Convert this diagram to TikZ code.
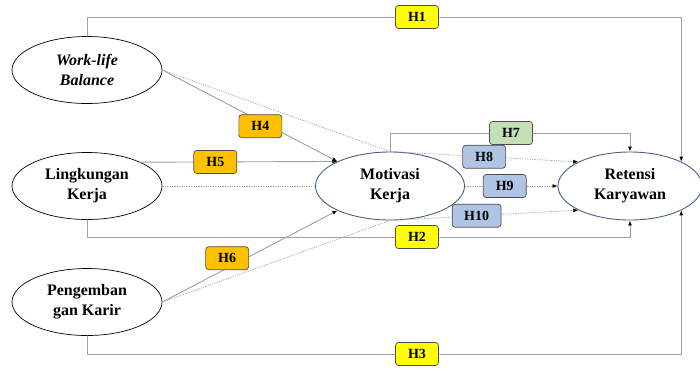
\documentclass[tikz,border=0pt]{standalone}
\usepackage{fontspec}
\setmainfont{Liberation Serif}
\usetikzlibrary{calc, shapes.geometric, arrows.meta}
\definecolor{linegray}{HTML}{A0A0A0}
\definecolor{slate}{HTML}{4A5F86}
\definecolor{hyellow}{HTML}{FFFF00}
\definecolor{horange}{HTML}{FFC000}
\definecolor{hgreen}{HTML}{C5E0B4}
\definecolor{hblue}{HTML}{B0C4E6}
\def\varfont{\bfseries\fontsize{16}{20}\selectfont}

\begin{document}
\begin{tikzpicture}[x=1pt, y=-1pt, line cap=round, line join=round,
	var/.style={ellipse, draw, fill=white, line width=0.7pt, minimum width=150pt, minimum height=67pt, inner sep=0pt, align=center, font=\varfont},
	med/.style={var, draw=slate, line width=0.9pt, minimum width=149pt, minimum height=68pt},
	hyp/.style={draw=black!70, solid, rounded corners=3pt, line width=0.7pt, minimum width=43pt, minimum height=23pt, inner xsep=12pt, inner ysep=0pt, font=\bfseries\fontsize{14}{16}\selectfont},
	link/.style={draw=linegray, line width=0.9pt, -{Latex[length=5pt, width=4pt, color=black]}},
	dotlink/.style={link, line width=0.7pt, line cap=butt, dash pattern=on 1.2pt off 1.2pt}]
		
		\useasboundingbox (0,0) rectangle (700,370);
		
		%Variables
		\node[var, font=\varfont\itshape] (wlb) at (87,70) {Work-life\\Balance};
		\node[var] (lk) at (87,186) {Lingkungan\\Kerja};
		\node[var] (pk) at (87,302) {Pengemban\\gan Karir};
		\node[med] (mk) at (390,186) {Motivasi\\Kerja};
		\node[med, minimum width=144pt] (rk) at (630,186) {Retensi\\Karyawan};
		
		%Hypotheses on the outer routes
		\node[hyp, fill=hyellow] (h1) at (417,17) {H1};
		\node[hyp, fill=hyellow] (h2) at (417,237) {H2};
		\node[hyp, fill=hyellow] (h3) at (417,354) {H3};
		\node[hyp, fill=hgreen] (h7) at (511,133) {H7};
		
		%Direct lines
		\draw[link] (wlb.north) |- (h1) -| (rk.north east);
		\draw[link] (lk.south) |- (h2) -| (rk.south);
		\draw[link] (pk.south) |- (h3) -| (rk.south east);
		\draw[link] (mk.north) |- (h7) -| (rk.north);
		\draw[link] (wlb.east) -- node[hyp, fill=horange, pos=0.56, yshift=-5pt] (h4) {H4} (mk.155);
		\draw[link] (lk.24) -- node[hyp, fill=horange, pos=0.38] (h5) {H5} (mk.155);
		\draw[link] (pk.east) -- node[hyp, fill=horange, pos=0.37, yshift=10pt] (h6) {H6} (mk.205);
		
		%Mediated lines
		\draw[dotlink] (wlb.east) -- (mk.north) -- node[hyp, fill=hblue, pos=0.5] (h8) {H8} (rk.155);
		\draw[dotlink, -] (lk.east) -- (mk.west);
		\draw[dotlink] (mk.east) -- node[hyp, fill=hblue, pos=0.43] (h9) {H9} (rk.west);
		\draw[dotlink] (pk.east) -- (mk.south) -- node[hyp, fill=hblue, pos=0.46] (h10) {H10} (rk.205);
		
	\end{tikzpicture}
\end{document}
